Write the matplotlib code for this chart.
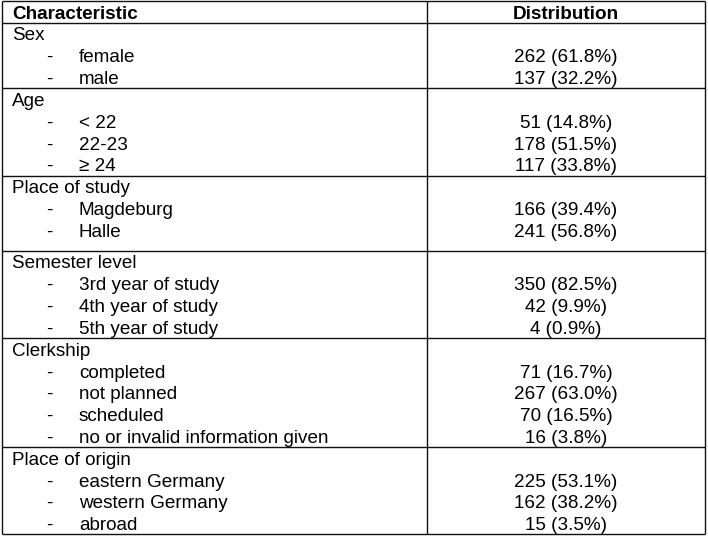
import matplotlib
matplotlib.use("Agg")
import matplotlib.pyplot as plt

plt.rcParams['font.family'] = ['Liberation Sans', 'DejaVu Sans']

header = ["Characteristic", "Distribution"]
groups = ["Sex", "Age", "Place of study", "Semester level", "Clerkship", "Place of origin"]
items = [
    ["female", "male"],
    ["< 22", "22-23", "\u2265 24"],
    ["Magdeburg", "Halle"],
    ["3rd year of study", "4th year of study", "5th year of study"],
    ["completed", "not planned", "scheduled", "no or invalid information given"],
    ["eastern Germany", "western Germany", "abroad"],
]
values = [
    ["262 (61.8%)", "137 (32.2%)"],
    ["51 (14.8%)", "178 (51.5%)", "117 (33.8%)"],
    ["166 (39.4%)", "241 (56.8%)"],
    ["350 (82.5%)", "42 (9.9%)", "4 (0.9%)"],
    ["71 (16.7%)", "267 (63.0%)", "70 (16.5%)", "16 (3.8%)"],
    ["225 (53.1%)", "162 (38.2%)", "15 (3.5%)"],
]
extra_pad = [0, 0, 10, 0, 0, 0]

W, H = 708, 539
fig = plt.figure(figsize=(W / 100, H / 100), dpi=100)
ax = fig.add_axes([0, 0, 1, 1])
ax.set_xlim(0, W)
ax.set_ylim(H, 0)
ax.axis('off')

x_left, x_right, x_div = 2, 705, 427
x_cat, x_dash, x_item = 12, 46, 79
x_val = (x_div + x_right) / 2
pitch = 21.8
fs = 13.6
base_off = 6.5
lc = '#111111'
lw = 1.0

top = 1
header_bottom = 23
hy = (top + header_bottom) / 2 + base_off + 0.5
ax.text(x_cat, hy, header[0], fontsize=fs, fontweight='bold', ha='left', va='baseline')
ax.text(x_val, hy, header[1], fontsize=fs, fontweight='bold', ha='center', va='baseline')

lines_y = [top, header_bottom]
y = header_bottom
for g, its, vals, pad in zip(groups, items, values, extra_pad):
    yc = y + 11
    ax.text(x_cat, yc + base_off, g, fontsize=fs, ha='left', va='baseline')
    for it, v in zip(its, vals):
        yc += pitch
        ax.text(x_dash, yc + base_off, "-", fontsize=fs, ha='left', va='baseline')
        ax.text(x_item, yc + base_off, it, fontsize=fs, ha='left', va='baseline')
        ax.text(x_val, yc + base_off, v, fontsize=fs, ha='center', va='baseline')
    y = y + pitch * (len(its) + 1) + pad
    lines_y.append(y)

bottom = lines_y[-1]
for ly in lines_y:
    ax.plot([x_left, x_right], [ly, ly], color=lc, lw=lw, solid_capstyle='butt')
for lx in [x_left, x_div, x_right]:
    ax.plot([lx, lx], [top, bottom], color=lc, lw=lw, solid_capstyle='butt')

fig.savefig("out.png", dpi=100)
